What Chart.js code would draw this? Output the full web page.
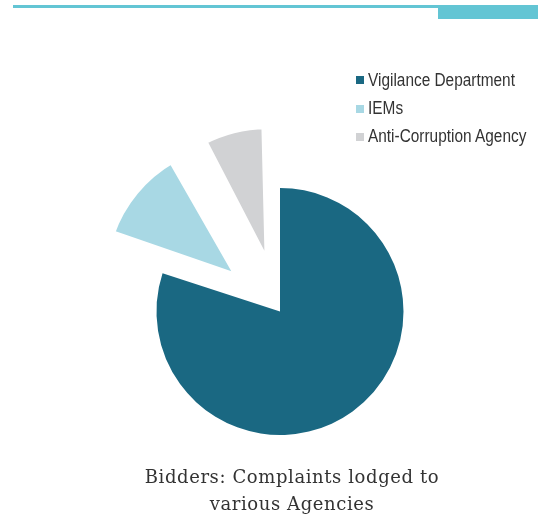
<!DOCTYPE html>
<html lang="en">
<head>
  <meta charset="UTF-8">
  <title>Bidders: Complaints lodged to various Agencies</title>
  <script src="https://cdn.jsdelivr.net/npm/chart.js"></script>
  <style>
    body { margin: 0; background: #fff; }
    #wrap { position: relative; width: 538px; height: 517px; overflow: hidden; }
    .rule { position: absolute; left: 13px; top: 5px; width: 525px; height: 3px; background: #63c5d4; }
    .tab { position: absolute; left: 438px; top: 5px; width: 100px; height: 14px; background: #63c5d4; }
    #myChart { position: absolute; left: 0; top: 0; }
    .leg-row { position: absolute; left: 356px; height: 20px; }
    .leg-box { position: absolute; left: 0; width: 8px; height: 8px; }
    .leg-text { position: absolute; left: 12px; top: 0; white-space: nowrap;
      font-family: "Liberation Sans", Arial, sans-serif;
      font-size: 17.5px; line-height: 20px; color: #333;
      transform: scaleX(0.88); transform-origin: 0 0; }
    #title { position: absolute; left: 112px; top: 463px; width: 360px; text-align: center;
      font-family: "DejaVu Serif", serif; font-size: 18px; letter-spacing: 0.6px;
      line-height: 27px; color: #333; }
  </style>
</head>
<body>
<div id="wrap">
  <div class="rule"></div>
  <div class="tab"></div>
  <canvas id="myChart" width="538" height="517"></canvas>
  <div id="legend"></div>
  <div id="title">Bidders: Complaints lodged to<br>various Agencies</div>
</div>
<script>
// share of complaints (%)
const agencies = ['Vigilance Department', 'IEMs', 'Anti-Corruption Agency'];
const shares = [80, 12, 8];
const colors = ['#1a6882', '#a8d8e4', '#d1d2d4'];
// exploded slices: offset pushes them out, a white border trims them back
const explode = [0, 200, 171];
const border = [0, 9.2, 9];

// legend (html so it can sit above the pie like the original)
const legendBase = [85, 113.5, 141.5];
const legend = document.getElementById('legend');
agencies.forEach((name, i) => {
  const row = document.createElement('div');
  row.className = 'leg-row';
  row.style.top = (legendBase[i] - 15.5) + 'px';
  const box = document.createElement('span');
  box.className = 'leg-box';
  box.style.background = colors[i];
  box.style.top = '6.5px';
  const txt = document.createElement('span');
  txt.className = 'leg-text';
  txt.textContent = name;
  row.appendChild(box);
  row.appendChild(txt);
  legend.appendChild(row);
});

const ctx = document.getElementById('myChart').getContext('2d');
new Chart(ctx, {
  type: 'pie',
  data: {
    labels: agencies,
    datasets: [{
      data: shares,
      backgroundColor: colors,
      borderColor: '#fff',
      borderWidth: border,
      offset: explode,
      radius: 123.5
    }]
  },
  options: {
    responsive: false,
    animation: false,
    layout: { padding: { left: 22, right: 0, top: 106, bottom: 0 } },
    plugins: {
      legend: { display: false },
      tooltip: { enabled: false }
    }
  }
});
</script>
</body>
</html>
